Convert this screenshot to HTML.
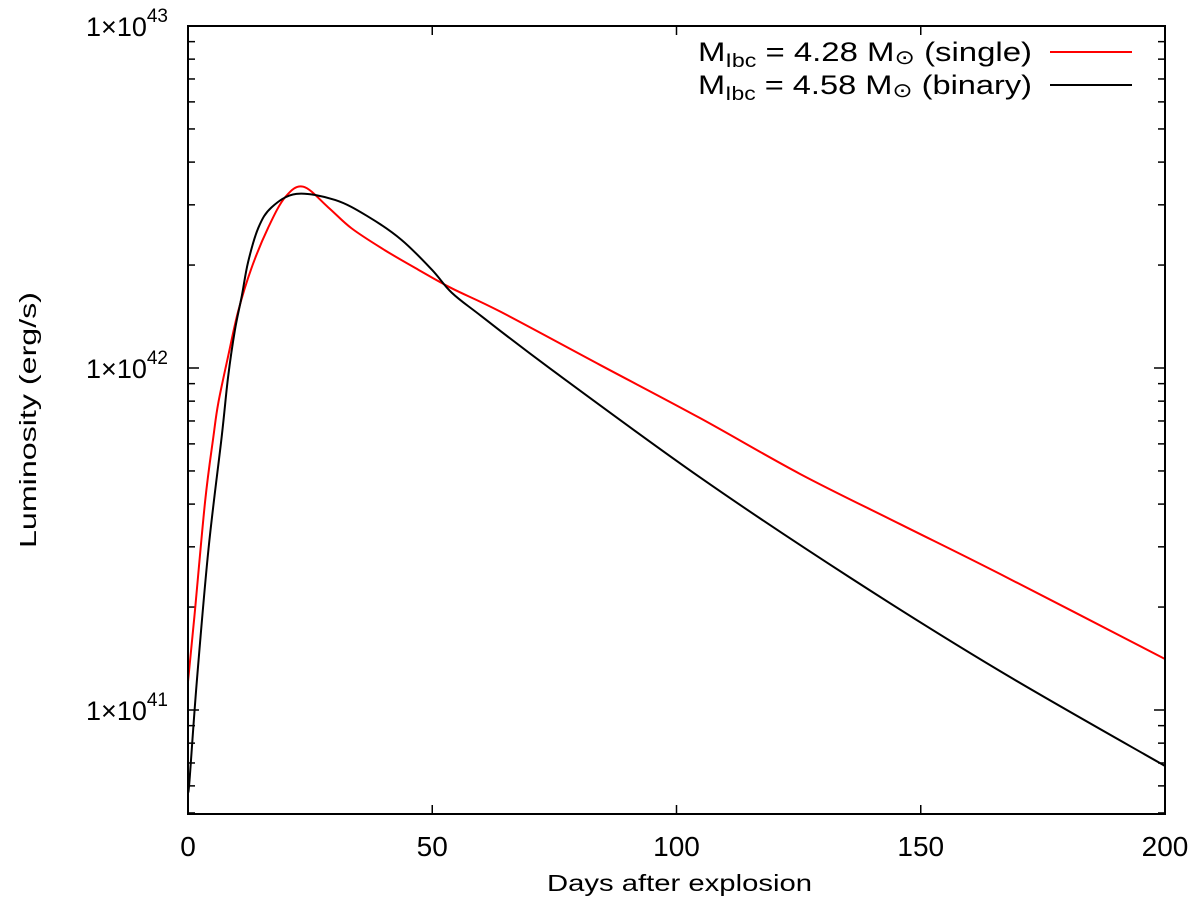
<!DOCTYPE html>
<html><head><meta charset="utf-8"><style>
body{margin:0;background:#fff}
svg text{font-family:"Liberation Sans",sans-serif;fill:#000}
</style></head><body>
<svg width="1200" height="913">
<g id="axes"></g>
<g id="series"></g>
<rect x="188" y="26" width="977" height="788" fill="none" stroke="#000" stroke-width="2"/>
<text x="698" y="61" font-size="27" textLength="334" lengthAdjust="spacingAndGlyphs">M<tspan font-size="19" dy="6">Ibc</tspan><tspan dy="-6"> = 4.28 M</tspan><tspan font-size="20" dy="3">⊙</tspan><tspan dy="-3"> (single)</tspan></text>
<line x1="1050" y1="52" x2="1132" y2="52" stroke="#f00" stroke-width="2"/>
<text x="698" y="94" font-size="27" textLength="334" lengthAdjust="spacingAndGlyphs">M<tspan font-size="19" dy="6">Ibc</tspan><tspan dy="-6"> = 4.58 M</tspan><tspan font-size="20" dy="3">⊙</tspan><tspan dy="-3"> (binary)</tspan></text>
<line x1="1050" y1="85" x2="1132" y2="85" stroke="#000" stroke-width="2"/>
<text x="547" y="891" font-size="23" textLength="265" lengthAdjust="spacingAndGlyphs">Days after explosion</text>
<text transform="translate(36,548) rotate(-90)" font-size="23" textLength="256" lengthAdjust="spacingAndGlyphs">Luminosity (erg/s)</text>
</svg>
<script>
// luminosity in units of 1e41 erg/s
const xTicks=[0,50,100,150,200];
const yDecades=[41,42,43];
const singleDays=[0,1.3,3.5,5.2,6.2,8.2,10.3,13,16.4,19.9,23.6,28.7,33.5,40.3,47.1,54,64,84.4,104.8,125.3,145.7,166.2,200];
const singleLum=[1.21,1.87,4.07,6.3,7.9,10.8,14.7,19.6,25.7,31.6,33.9,29.5,25.6,22.1,19.4,17.1,14.6,10.2,7.14,4.9,3.5,2.5,1.41];
const binaryDays=[0,0.3,1.8,4.2,6.9,8.2,9.6,11,12.3,14.4,17.1,22.2,30.1,36.9,43.7,49.9,54,60,74.1,104.8,135.5,166.2,200];
const binaryLum=[0.58,0.62,1.21,2.96,6.3,9.4,12.9,16.2,20.4,25.7,29.5,32.3,31.0,27.7,23.7,19.4,16.6,14.2,9.97,4.79,2.44,1.30,0.686];
const NS='http://www.w3.org/2000/svg';
const X0=188,X1=1165,Y0=26,Y1=814;
const xs=d=>X0+(d-0)/(200-0)*(X1-X0);
const ys=l=>368-(Math.log10(l*1e41)-42)*342;
const axes=document.getElementById('axes');
function mk(t,a,p){const e=document.createElementNS(NS,t);for(const k in a)e.setAttribute(k,a[k]);p.appendChild(e);return e;}
xTicks.forEach(v=>{
 const x=xs(v);
 const t1=mk('line',{x1:x,y1:Y1,x2:x,y2:Y1-9,stroke:'#000','stroke-width':1.5},axes);
 
 
 const t2=mk('line',{x1:x,y1:Y0,x2:x,y2:Y0+9,stroke:'#000','stroke-width':1.5},axes);
 
 
 const tx=mk('text',{x:x,y:856,'font-size':28,'text-anchor':'middle'},axes);
 tx.textContent=v;
 
 
});
for(let dec=40;dec<=42;dec++){for(let m=1;m<=9;m++){
 const l=m*Math.pow(10,dec-41);const y=ys(l);
 if(y<Y0-0.5||y>Y1+0.5)continue;
 const len=m===1?11:7;
 const a=mk('line',{x1:X0,y1:y,x2:X0+len,y2:y,stroke:'#000','stroke-width':1.5},axes);
 
 
 const b=mk('line',{x1:X1,y1:y,x2:X1-len,y2:y,stroke:'#000','stroke-width':1.5},axes);
 
 
}}
yDecades.forEach(d=>{
 const y=ys(Math.pow(10,d-41));
 const t=mk('text',{x:168,y:y+10,'font-size':27,'text-anchor':'end'},axes);
 t.innerHTML='1×10<tspan font-size="19" dy="-14">'+d+'</tspan>';
 
 
});
function path(dx,dl){
 const p=dx.map((d,i)=>[xs(d),ys(dl[i])]);
 let s='M'+p[0][0]+','+p[0][1];
 for(let i=0;i<p.length-1;i++){
  const a=p[i-1]||p[i],b=p[i],c=p[i+1],e=p[i+2]||c;
  s+=' C'+(b[0]+(c[0]-a[0])/6)+','+(b[1]+(c[1]-a[1])/6)+' '+(c[0]-(e[0]-b[0])/6)+','+(c[1]-(e[1]-b[1])/6)+' '+c[0]+','+c[1];
 }
 return s;
}
const sg=document.getElementById('series');
const r=mk('path',{d:path(singleDays,singleLum),fill:'none',stroke:'#f00','stroke-width':2},sg);


const k=mk('path',{d:path(binaryDays,binaryLum),fill:'none',stroke:'#000','stroke-width':2},sg);


</script>
</body></html>
